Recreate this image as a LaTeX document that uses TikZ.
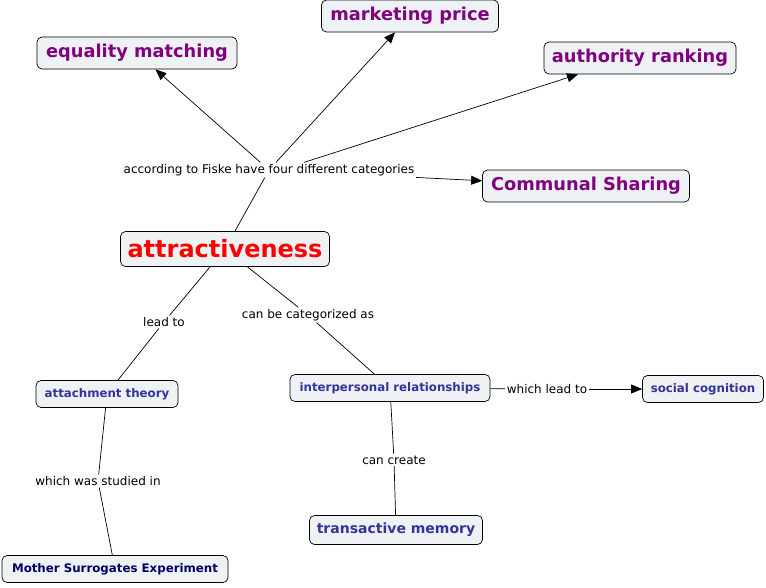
\documentclass[tikz,border=0pt]{standalone}
\usepackage{fontspec}
\setmainfont{DejaVu Sans}
\usepackage{xcolor}
\usetikzlibrary{arrows.meta, positioning}
\definecolor{boxfill}{HTML}{EEF2F5}
\definecolor{catpurple}{HTML}{800080}
\definecolor{topicblue}{HTML}{333399}
\definecolor{darknavy}{HTML}{000066}
\tikzset{
  % concept map styles
  concept/.style={rectangle, rounded corners=5pt, draw=black, fill=boxfill, text centered, inner xsep=7pt},
  category/.style={concept, text=catpurple, font=\bfseries\fontsize{17.8}{20}\selectfont, minimum height=32pt},
  topic/.style={concept, text=topicblue, font=\bfseries\fontsize{11.8}{14}\selectfont, minimum height=27pt},
  linklabel/.style={fill=white, inner sep=1.5pt, font=\fontsize{12}{14}\selectfont},
  arrow/.style={-{Triangle[length=11pt, width=9pt]}},
}
\begin{document}
\begin{tikzpicture}[x=1pt, y=-1pt, line width=0.7pt]
    \useasboundingbox (0,0) rectangle (766,587);
    % Concepts
    \node[concept, text=red, font=\bfseries\fontsize{24}{28}\selectfont, minimum height=35pt, minimum width=209pt] (attr) at (225,249) {attractiveness};
    \node[category, minimum width=177pt] (market) at (410,16) {marketing price};
    \node[category, minimum width=200pt] (equal) at (137,53) {equality matching};
    \node[category, minimum width=192pt] (author) at (640,58) {authority ranking};
    \node[category, minimum width=207pt] (commun) at (586,186) {Communal Sharing};
    \node[topic, minimum width=142pt] (attach) at (107,394) {attachment theory};
    \node[topic, minimum width=200pt] (interp) at (390,388) {interpersonal relationships};
    \node[topic, minimum width=121pt] (social) at (703,389) {social cognition};
    \node[topic, font=\bfseries\fontsize{14}{16}\selectfont, minimum height=29pt, minimum width=173pt] (transact) at (396,530) {transactive memory};
    \node[topic, text=darknavy, minimum width=226pt] (mother) at (115,569) {Mother Surrogates Experiment};
    % Linking phrases
    \node[linklabel] (fiske) at (269,170) {according to Fiske have four different categories};
    \node[linklabel] (leadto) at (164,322) {lead to};
    \node[linklabel] (categ) at (308,315) {can be categorized as};
    \node[linklabel] (whichlead) at (547,389) {which lead to};
    \node[linklabel] (create) at (394,460) {can create};
    \node[linklabel] (studied) at (98,481) {which was studied in};
    % Connectors
    \draw (attr) -- (fiske);
    \draw[arrow] (fiske) -- (equal);
    \draw[arrow] (fiske) -- (market);
    \draw[arrow] ([xshift=-112pt]fiske.north east) -- ([xshift=-62pt]author.south);
    \draw[arrow] (fiske) -- (commun);
    \draw (attr) -- (leadto);
    \draw (leadto) -- (attach);
    \draw (attr) -- (categ);
    \draw (categ) -- (interp);
    \draw (interp) -- (whichlead);
    \draw[arrow] (whichlead) -- (social);
    \draw (interp) -- (create);
    \draw (create) -- (transact);
    \draw (attach) -- (studied);
    \draw (studied) -- (mother);
\end{tikzpicture}
\end{document}
